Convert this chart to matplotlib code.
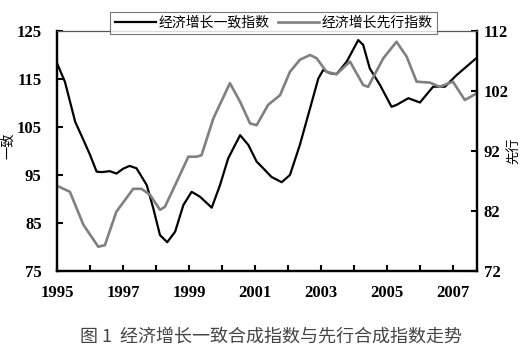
import numpy as np
import matplotlib
matplotlib.use("Agg")
import matplotlib.pyplot as plt

plt.rcParams['font.family'] = ['Noto Sans CJK SC', 'DejaVu Sans']

# 经济增长一致指数 (left axis)
coin_x = [1995.0, 1995.24, 1995.55, 1995.8, 1996.0, 1996.2, 1996.35, 1996.6, 1996.8,
          1997.0, 1997.2, 1997.41, 1997.72, 1997.92, 1998.12, 1998.34, 1998.58, 1998.83,
          1999.08, 1999.33, 1999.69, 1999.94, 2000.19, 2000.55, 2000.8, 2001.05, 2001.25,
          2001.5, 2001.81, 2002.06, 2002.36, 2002.67, 2002.92, 2003.07, 2003.27, 2003.47,
          2003.78, 2004.13, 2004.28, 2004.48, 2004.79, 2005.14, 2005.29, 2005.65, 2006.0,
          2006.4, 2006.76, 2007.11, 2007.72]
coin_y = [118.3, 114.4, 106.1, 102.3, 99.2, 95.7, 95.6, 95.8, 95.3,
          96.3, 96.9, 96.4, 92.9, 88.0, 82.5, 81.0, 83.2, 88.75,
          91.5, 90.5, 88.2, 92.9, 98.5, 103.3, 101.25, 97.8, 96.4,
          94.6, 93.5, 95.0, 101.25, 108.9, 115.1, 116.9, 116.2, 116.0,
          118.6, 123.1, 122.1, 117.2, 113.75, 109.2, 109.6, 111.0, 110.1,
          113.4, 113.4, 115.8, 119.4]

# 经济增长先行指数 (right axis)
lead_x = [1995.0, 1995.39, 1995.8, 1996.25, 1996.45, 1996.8, 1997.31, 1997.56, 1997.82,
          1998.12, 1998.27, 1998.63, 1998.98, 1999.23, 1999.38, 1999.74, 2000.24, 2000.55,
          2000.85, 2001.05, 2001.4, 2001.76, 2002.06, 2002.36, 2002.67, 2002.87, 2003.17,
          2003.47, 2003.88, 2004.28, 2004.43, 2004.89, 2005.29, 2005.6, 2005.9, 2006.3,
          2006.6, 2007.0, 2007.36, 2007.72]
lead_y = [86.2, 85.2, 79.7, 76.05, 76.3, 81.9, 85.7, 85.7, 84.7,
          82.2, 82.7, 86.9, 91.05, 91.05, 91.3, 97.45, 103.3, 100.2,
          96.6, 96.3, 99.7, 101.3, 105.2, 107.2, 108.0, 107.45, 105.2,
          104.8, 106.9, 103.0, 102.7, 107.45, 110.2, 107.7, 103.55, 103.4,
          102.7, 103.55, 100.5, 101.6]

left_ticks = [75, 85, 95, 105, 115, 125]
right_ticks = [72, 82, 92, 102, 112]
year_labels = [1995, 1997, 1999, 2001, 2003, 2005, 2007]

fig = plt.figure(figsize=(5.29, 3.52), dpi=100)
ax = fig.add_axes([0.1078, 0.230, 0.7939, 0.682])
ax2 = ax.twinx()

l1, = ax.plot(coin_x, coin_y, color='black', lw=1.6, label='经济增长一致指数')
l2, = ax2.plot(lead_x, lead_y, color='#808080', lw=1.9, label='经济增长先行指数')

ax.set_xlim(1995, 2007.73)
ax.set_ylim(75, 125)
ax2.set_ylim(72, 112)
ax.set_yticks(left_ticks)
ax2.set_yticks(right_ticks)
ax.set_xticks(range(1995, 2008))
ax.set_xticklabels([str(y) if y in year_labels else '' for y in range(1995, 2008)])

tick_font = dict(family='Liberation Serif', weight='bold', size=12)
for lab in ax.get_xticklabels() + ax.get_yticklabels() + ax2.get_yticklabels():
    lab.set_fontproperties(matplotlib.font_manager.FontProperties(**tick_font))

ax.tick_params(axis='y', direction='in', length=4, width=1.5, pad=11)
ax.tick_params(axis='x', direction='in', length=4, width=1.5, pad=10)
ax2.tick_params(axis='y', direction='in', length=4, width=1.5, pad=5)

for a in (ax, ax2):
    for side in ('left', 'right', 'bottom'):
        a.spines[side].set_linewidth(1.6)
        a.spines[side].set_color('black')
    a.spines['top'].set_linewidth(0.8)
    a.spines['top'].set_color('#555555')

fig.text(10 / 529, 1 - 146 / 352, '一致', rotation=90, fontsize=9.5,
         ha='center', va='center')
fig.text(515 / 529, 1 - 151 / 352, '先行', rotation=90, fontsize=9.5,
         ha='center', va='center')

leg = fig.legend(handles=[l1, l2], ncol=2, loc='center',
                 bbox_to_anchor=(273.5 / 529, 1 - 23 / 352), fontsize=10,
                 frameon=True, fancybox=False, handlelength=3.0,
                 handletextpad=0.15, columnspacing=0.6, borderpad=0.3)
leg.get_frame().set_edgecolor('#555555')
leg.get_frame().set_linewidth(0.8)

fig.text(271 / 529, 1 - 337 / 352, '图 1  经济增长一致合成指数与先行合成指数走势',
         fontsize=13, ha='center', va='center', color='#444444', weight='light')

fig.savefig('out.png', dpi=100)
